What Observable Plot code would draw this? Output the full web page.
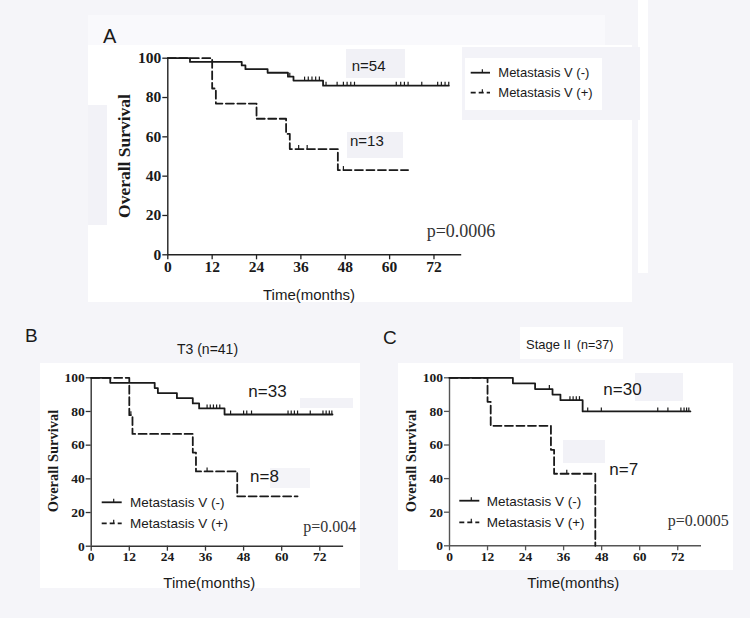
<!DOCTYPE html>
<html><head><meta charset="utf-8">
<script src="https://cdn.jsdelivr.net/npm/d3@7"></script>
<script src="https://cdn.jsdelivr.net/npm/@observablehq/plot@0.6"></script>
<style>
html,body{margin:0;padding:0;background:#f5f5f9;}
#page{position:relative;width:750px;height:618px;overflow:hidden;background:#f5f5f9;}
.bx{position:absolute;}
.chart{position:absolute;}
svg.overlay{position:absolute;left:0;top:0;pointer-events:none;}
</style></head><body><div id="page"></div>
<script>
// ---------------- DATA ----------------
const xTicks = [0, 12, 24, 36, 48, 60, 72];
const yTicks = [0, 20, 40, 60, 80, 100];
const xMax = 79.5;

// Panel A (all patients)
const aNegTime = [0, 6, 20, 21, 27, 32.5, 34, 42, 76];
const aNegSurv = [100, 98.1, 96.3, 94.4, 92.6, 90.6, 88.6, 86.0, 86.0];
const aNegCens = [33, 37, 38, 39, 40, 41, 42.8, 45.8, 47.5, 48.5, 49.5, 50.5, 61.8, 63, 64, 65, 68.7, 73, 74, 75, 76];
const aPosTime = [0, 12, 13, 24, 32, 33, 46, 65];
const aPosSurv = [100, 84.6, 76.9, 69.2, 61.5, 53.8, 43.1, 43.1];
const aPosCens = [35.4, 37.7, 47.5];

// Panel B (T3)
const bNegTime = [0, 6, 20, 21, 27, 32, 34, 42, 76];
const bNegSurv = [100, 97.0, 93.9, 90.9, 87.9, 84.8, 81.8, 78.2, 78.2];
const bNegCens = [36.5, 37.5, 38.5, 39.5, 40.5, 43.9, 48, 49, 50.5, 62, 63, 64, 65, 69, 73, 74, 75, 75.8];
const bPosTime = [0, 12, 13, 32, 33, 46, 65];
const bPosSurv = [100, 77.8, 66.7, 55.6, 44.4, 29.6, 29.6];
const bPosCens = [12.5, 36.5];

// Panel C (Stage II)
const cNegTime = [0, 20, 27, 32.5, 35, 42, 76];
const cNegSurv = [100, 96.7, 93.3, 90.0, 86.7, 80.0, 80.0];
const cNegCens = [31.5, 38, 39, 40, 41, 43.6, 47.9, 65.7, 68.9, 73, 74, 74.8, 75.5];
const cPosTime = [0, 12, 13, 32, 33, 46, 46];
const cPosSurv = [100, 85.7, 71.4, 57.1, 42.9, 42.9, 0];
const cPosCens = [37];

const seriesNames = ["Metastasis V (-)", "Metastasis V (+)"];

// ---------------- HELPERS ----------------
const SANS = "'Liberation Sans', Arial, sans-serif";
const SERIF = "'Liberation Serif', 'Times New Roman', serif";
const INK = "#1a1a1a";

function toRows(times, survs) { return times.map((t, i) => ({t, s: survs[i]})); }
function survAt(times, survs, t) {
  let s = survs[0];
  for (let i = 0; i < times.length; i++) if (times[i] <= t) s = survs[i];
  return s;
}
function censRows(cens, times, survs) { return cens.map(t => ({t, s: survAt(times, survs, t)})); }

const tickUp = { draw(ctx) { ctx.moveTo(0, 0); ctx.lineTo(0, -4); } };

function panel(p) {
  const neg = toRows(p.negTime, p.negSurv), pos = toRows(p.posTime, p.posSurv);
  const txt = {fontFamily: SERIF, fontWeight: "bold", fontSize: p.fs, fill: INK};
  return Plot.plot({
    width: p.width, height: p.height,
    marginLeft: p.ml, marginRight: p.mr, marginTop: p.mt, marginBottom: p.mb,
    x: {domain: [0, xMax]},
    y: {domain: [0, 100]},
    style: {background: "transparent", overflow: "visible"},
    marks: [
      Plot.axisX({ticks: xTicks, tickSize: 5, tickFormat: () => "", label: null, stroke: p.axis, strokeWidth: 1.3}),
      Plot.axisY({ticks: yTicks, tickSize: 5, tickFormat: () => "", label: null, stroke: p.axis, strokeWidth: 1.3}),
      Plot.text(xTicks, {x: (d) => d, frameAnchor: "bottom", dy: p.xdy, text: (d) => String(d), ...txt}),
      Plot.text(yTicks, {y: (d) => d, frameAnchor: "left", dx: -6.5, textAnchor: "end", text: (d) => String(d), ...txt}),
      Plot.ruleY([0], {stroke: p.axis, strokeWidth: 1.4}),
      Plot.ruleX([0], {stroke: p.axis, strokeWidth: 1.4}),
      Plot.line(neg, {x: "t", y: "s", curve: "step-after", stroke: INK, strokeWidth: 1.8}),
      Plot.line(pos, {x: "t", y: "s", curve: "step-after", stroke: INK, strokeWidth: 1.8, strokeDasharray: "8,3.5"}),
      Plot.dot(censRows(p.negCens, p.negTime, p.negSurv), {x: "t", y: "s", symbol: tickUp, fill: "none", stroke: INK, strokeWidth: 1.2, r: 3}),
      Plot.dot(censRows(p.posCens, p.posTime, p.posSurv), {x: "t", y: "s", symbol: tickUp, fill: "none", stroke: INK, strokeWidth: 1.2, r: 3})
    ]
  });
}

const page = document.getElementById("page");
function box(x, y, w, h, color) {
  const d = document.createElement("div");
  d.className = "bx";
  Object.assign(d.style, {left: x + "px", top: y + "px", width: w + "px", height: h + "px", background: color});
  page.appendChild(d);
}

// background panels
box(88, 45, 544, 257, "#ffffff");
box(88, 15, 517, 30, "#f9f9fc");
box(638, 0, 10, 273, "#ffffff");
box(88, 105, 19, 120, "#f2f2f7");
box(462, 47, 178, 73, "#f3f3f8");
box(465, 58, 137, 52, "#ffffff");
box(40, 363, 320, 225, "#ffffff");
box(398, 363, 335, 207, "#ffffff");
box(520, 327, 103, 32, "#ffffff");
// faint label boxes
box(346, 49, 59, 29, "#f1f1f6");
box(347, 132, 56, 26, "#f1f1f6");
box(300, 398, 53, 10, "#f2f2f7");
box(270, 468, 40, 20, "#f4f4f8");
box(635, 373, 48, 28, "#f2f2f7");
box(563, 440, 42, 23, "#f2f2f7");

// charts
const panels = [
  {left: 88, top: 15, width: 544, height: 290, ml: 79.3, mr: 170.8, mt: 42.7, mb: 50.7, fs: 15.5, xdy: 17.5, axis: "#222",
   negTime: aNegTime, negSurv: aNegSurv, negCens: aNegCens, posTime: aPosTime, posSurv: aPosSurv, posCens: aPosCens},
  {left: 0, top: 320, width: 375, height: 298, ml: 90.7, mr: 31.9, mt: 57.3, mb: 72.3, fs: 13.5, xdy: 15, axis: "#333",
   negTime: bNegTime, negSurv: bNegSurv, negCens: bNegCens, posTime: bPosTime, posSurv: bPosSurv, posCens: bPosCens},
  {left: 375, top: 320, width: 375, height: 298, ml: 74, mr: 49, mt: 57.3, mb: 72.7, fs: 13.5, xdy: 15, axis: "#555",
   negTime: cNegTime, negSurv: cNegSurv, negCens: cNegCens, posTime: cPosTime, posSurv: cPosSurv, posCens: cPosCens}
];
panels.forEach((p, i) => {
  const el = panel(p);
  const wrap = document.createElement("div");
  wrap.className = "chart";
  wrap.id = "chart" + i;
  wrap.style.left = p.left + "px";
  wrap.style.top = p.top + "px";
  wrap.appendChild(el);
  page.appendChild(wrap);
});

// overlay annotations
const svg = d3.select(page).append("svg").attr("class", "overlay").attr("width", 750).attr("height", 618);
const texts = [
  {t: "A", x: 103, y: 43, fs: 20, f: SANS},
  {t: "Time(months)", x: 309, y: 300, fs: 15, f: SANS, a: "middle"},
  {t: "n=54", x: 351.7, y: 70.7, fs: 15, f: SANS},
  {t: "n=13", x: 350, y: 146, fs: 15, f: SANS},
  {t: "p=0.0006", x: 426.7, y: 237.3, fs: 18, f: SERIF, c: "#333"},
  {t: seriesNames[0], x: 498.3, y: 76.5, fs: 13, f: SANS},
  {t: seriesNames[1], x: 498.3, y: 97, fs: 13, f: SANS},

  {t: "B", x: 25, y: 342, fs: 19, f: SANS},
  {t: "T3 (n=41)", x: 207.5, y: 354, fs: 14, f: SANS, a: "middle"},
  {t: "Time(months)", x: 209.3, y: 588, fs: 15, f: SANS, a: "middle"},
  {t: "n=33", x: 248.3, y: 397.3, fs: 17, f: SANS},
  {t: "n=8", x: 250, y: 482.3, fs: 17, f: SANS},
  {t: seriesNames[0], x: 130, y: 507, fs: 13.5, f: SANS},
  {t: seriesNames[1], x: 130, y: 528, fs: 13.5, f: SANS},
  {t: "p=0.004", x: 303.3, y: 531.7, fs: 16, f: SERIF, c: "#333"},

  {t: "C", x: 383, y: 343.5, fs: 19, f: SANS},
  {t: "Time(months)", x: 573.3, y: 588, fs: 15, f: SANS, a: "middle"},
  {t: "n=30", x: 603.3, y: 395, fs: 17, f: SANS},
  {t: "n=7", x: 609.3, y: 475, fs: 17, f: SANS},
  {t: seriesNames[0], x: 486.7, y: 505.5, fs: 13.5, f: SANS},
  {t: seriesNames[1], x: 486.7, y: 527, fs: 13.5, f: SANS},
  {t: "p=0.0005", x: 667.7, y: 526, fs: 16, f: SERIF, c: "#333"}
];
for (const d of texts) {
  svg.append("text").attr("x", d.x).attr("y", d.y).attr("font-family", d.f).attr("font-size", d.fs)
    .attr("fill", d.c || INK).attr("text-anchor", d.a || "start").text(d.t);
}
// Stage II title
const st = svg.append("text").attr("x", 526).attr("y", 349.3).attr("font-family", SANS).attr("fill", INK);
st.append("tspan").attr("font-size", 13).text("Stage II");
st.append("tspan").attr("font-size", 12.5).attr("dx", 6).text("(n=37)");

// rotated y labels
const ylabels = [{x: 124, y: 156, fs: 17.5}, {x: 52.5, y: 461, fs: 14.5}, {x: 411, y: 461, fs: 14.5}];
for (const d of ylabels) {
  svg.append("text").attr("transform", `translate(${d.x},${d.y}) rotate(-90)`).attr("text-anchor", "middle")
    .attr("dy", "0.35em").attr("font-family", SERIF).attr("font-weight", "bold").attr("font-size", d.fs)
    .attr("fill", INK).text("Overall Survival");
}

// legend samples
const samples = [
  {x1: 470.7, x2: 490, y: 72.7, dash: null}, {x1: 470.7, x2: 490, y: 92.7, dash: "5,3"},
  {x1: 101.7, x2: 121.7, y: 502.3, dash: null}, {x1: 101.7, x2: 121.7, y: 523.3, dash: "5,3"},
  {x1: 459.3, x2: 479.3, y: 500.7, dash: null}, {x1: 459.3, x2: 479.3, y: 522.3, dash: "5,3"}
];
for (const s of samples) {
  const ln = svg.append("line").attr("x1", s.x1).attr("x2", s.x2).attr("y1", s.y).attr("y2", s.y)
    .attr("stroke", INK).attr("stroke-width", 1.8);
  if (s.dash) ln.attr("stroke-dasharray", s.dash);
  const mx = (s.x1 + s.x2) / 2 + 2;
  svg.append("line").attr("x1", mx).attr("x2", mx).attr("y1", s.y).attr("y2", s.y - 3.5)
    .attr("stroke", INK).attr("stroke-width", 1.2);
}
</script></body></html>
